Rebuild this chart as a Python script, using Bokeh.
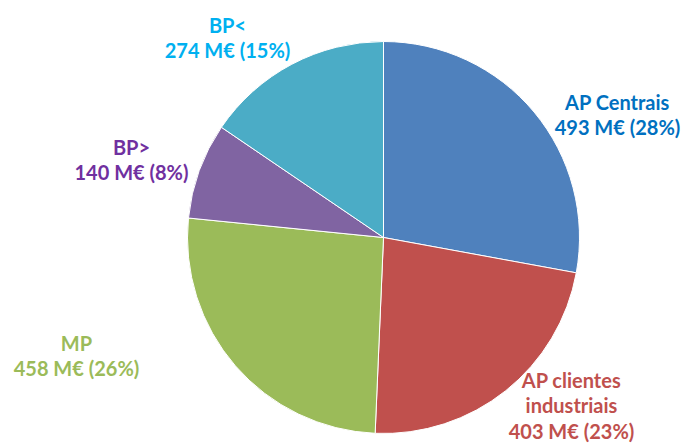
import math
from bokeh.plotting import figure
from bokeh.models import Range1d, ColumnDataSource
from bokeh.core.properties import value
from bokeh.embed import file_html
from bokeh.resources import INLINE

categories = ["AP Centrais", "AP clientes industriais", "MP", "BP>", "BP<"]
values = [493, 403, 458, 140, 274]
percents = [28, 23, 26, 8, 15]
slice_colors = ["#4F81BD", "#C0504D", "#9BBB59", "#8064A2", "#4BACC6"]
label_colors = ["#0070C0", "#C0504D", "#9BBB59", "#7030A0", "#00B0F0"]
label_lines = [
    ["AP Centrais"],
    ["AP clientes", "industriais"],
    ["MP"],
    ["BP>"],
    ["BP<"],
]
# label anchor (page px): center x, first line y
label_pos = [(617, 101), (571, 379), (76, 342), (131, 146), (227, 24)]

W, H = 683, 444
p = figure(width=W, height=H, output_backend="svg", toolbar_location=None,
           x_range=Range1d(0, W), y_range=Range1d(0, H),
           min_border=0, outline_line_color=None)
p.axis.visible = False
p.grid.visible = False
p.background_fill_color = "white"
p.border_fill_color = "white"

def py(y_page):
    return H - y_page

cx, cy, r = 383, 237, 196
total = sum(values)
starts, ends = [], []
cum = 0
for v in values:
    starts.append(math.pi / 2 - 2 * math.pi * cum / total)
    cum += v
    ends.append(math.pi / 2 - 2 * math.pi * cum / total)

src = ColumnDataSource(dict(start=starts, end=ends, color=slice_colors,
                            x=[cx] * len(values), y=[py(cy)] * len(values)))
p.wedge(x="x", y="y", radius=r, start_angle="start", end_angle="end",
        direction="clock", fill_color="color", line_color="white",
        line_width=1, source=src)

tx, ty, tt, tc = [], [], [], []
for i, cat in enumerate(categories):
    lines = label_lines[i] + [f"{values[i]} M€ ({percents[i]}%)"]
    x0, y0 = label_pos[i]
    for j, ln in enumerate(lines):
        tx.append(x0)
        ty.append(py(y0 + j * 25.5))
        tt.append(ln)
        tc.append(label_colors[i])

p.text(x=tx, y=ty, text=tt, text_color=tc, text_font=value("Lato"),
       text_font_style="bold", text_font_size="20px", text_align="center",
       text_baseline="middle")

open("out.html", "w").write(file_html(p, INLINE))
